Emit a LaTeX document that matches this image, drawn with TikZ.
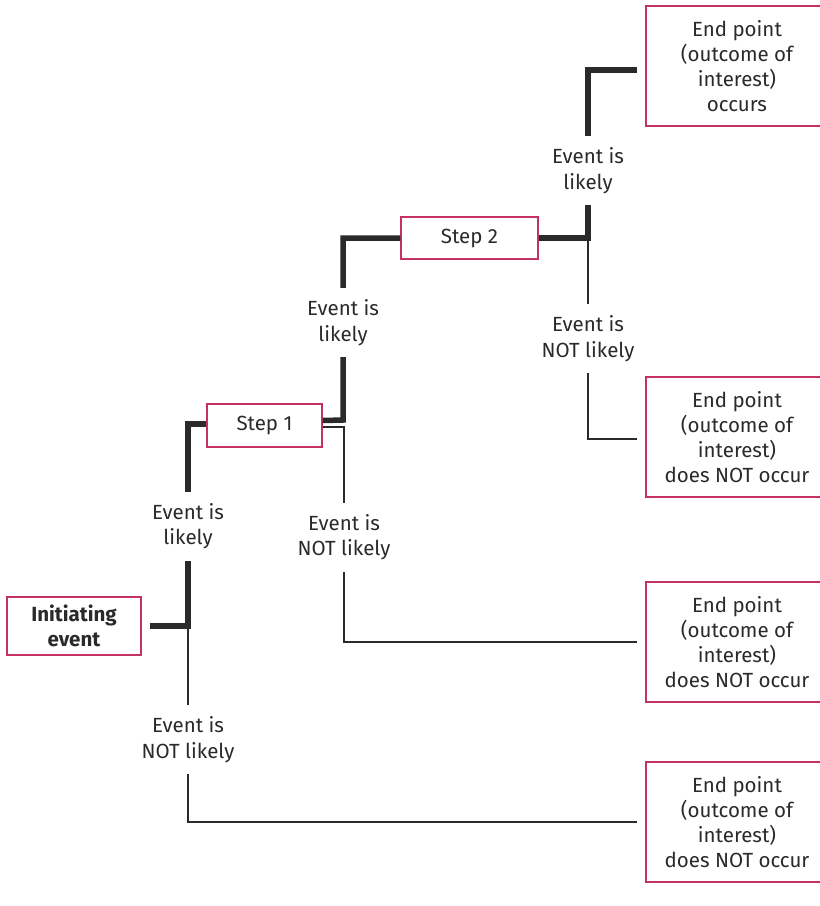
\documentclass[tikz,border=0pt]{standalone}
\usepackage{fontspec}
\setmainfont{Fira Sans}
\definecolor{ink}{HTML}{2B2A29}
\definecolor{rose}{HTML}{C4335F}
\begin{document}
\begin{tikzpicture}[x=1pt,y=-1pt,
  box/.style={draw=rose, line width=1.3pt, fill=white, text=ink, align=center, inner sep=0pt},
  endbox/.style={box, minimum width=182pt, minimum height=120pt,
    font=\fontsize{20.5}{25}\selectfont},
  stepbox/.style={box, font=\fontsize{20.5}{25}\selectfont},
  lbl/.style={fill=white, text=ink, align=center, inner xsep=2pt, inner ysep=0pt,
    minimum height=69pt, font=\fontsize{20.5}{25.5}\selectfont},
  heavy/.style={draw=ink, line width=5.5pt},
  light/.style={draw=ink, line width=1.5pt},
]
\clip (0,0) rectangle (820,906);

% boxes
\node[box, minimum width=134pt, minimum height=58pt,
  font=\bfseries\fontsize{20.5}{25}\selectfont] (init) at (74,626) {Initiating\\event};
\node[stepbox, minimum width=115pt, minimum height=43pt] (step1) at (264.5,425.5) {Step 1};
\node[stepbox, minimum width=137pt, minimum height=42pt] (step2) at (469.5,238) {Step 2};
\node[endbox] (end1) at (737,66)  {End point\\(outcome of\\interest)\\occurs};
\node[endbox] (end2) at (737,437) {End point\\(outcome of\\interest)\\does NOT occur};
\node[endbox] (end3) at (737,642) {End point\\(outcome of\\interest)\\does NOT occur};
\node[endbox] (end4) at (737,822) {End point\\(outcome of\\interest)\\does NOT occur};

% junctions and corners
\coordinate (j0) at (188,626);
\coordinate (c0) at (188,424);
\coordinate (c0b) at (188,822);
\coordinate (j1a) at (343,420);
\coordinate (c1) at (343,238);
\coordinate (j1b) at (344,427);
\coordinate (c1b) at (344,642);
\coordinate (j2) at (588,238);
\coordinate (c2) at (588,70);
\coordinate (c2b) at (588,439);

% branches from the initiating event
\draw[heavy] ([xshift=8pt]init.east) -- (j0) -- (c0) -- (step1.west |- c0);
\draw[light] (j0) -- (c0b) -- ([xshift=-8pt]end4.west |- c0b);

% branches from step 1
\draw[heavy] ([yshift=5pt]step1.east) -- (j1a) -- (c1) -- (step2.west);
\draw[light] ([yshift=-1.5pt]step1.east) -- (j1b) -- (c1b) -- ([xshift=-8pt]end3.west |- c1b);

% branches from step 2
\draw[heavy] (step2.east) -- (j2) -- (c2) -- ([xshift=-8pt]end1.west |- c2);
\draw[light] (j2) -- (c2b) -- ([xshift=-8pt]end2.west |- c2b);

% branch labels
\node[lbl] (la) at (188,526)   {Event is\\likely};
\node[lbl] (lb) at (188,739.5) {Event is\\NOT likely};
\node[lbl] (lc) at (343,322.5) {Event is\\likely};
\node[lbl] (ld) at (344,537)   {Event is\\NOT likely};
\node[lbl] (le) at (588,170.5) {Event is\\likely};
\node[lbl] (lf) at (588,338.5) {Event is\\NOT likely};
\end{tikzpicture}
\end{document}
